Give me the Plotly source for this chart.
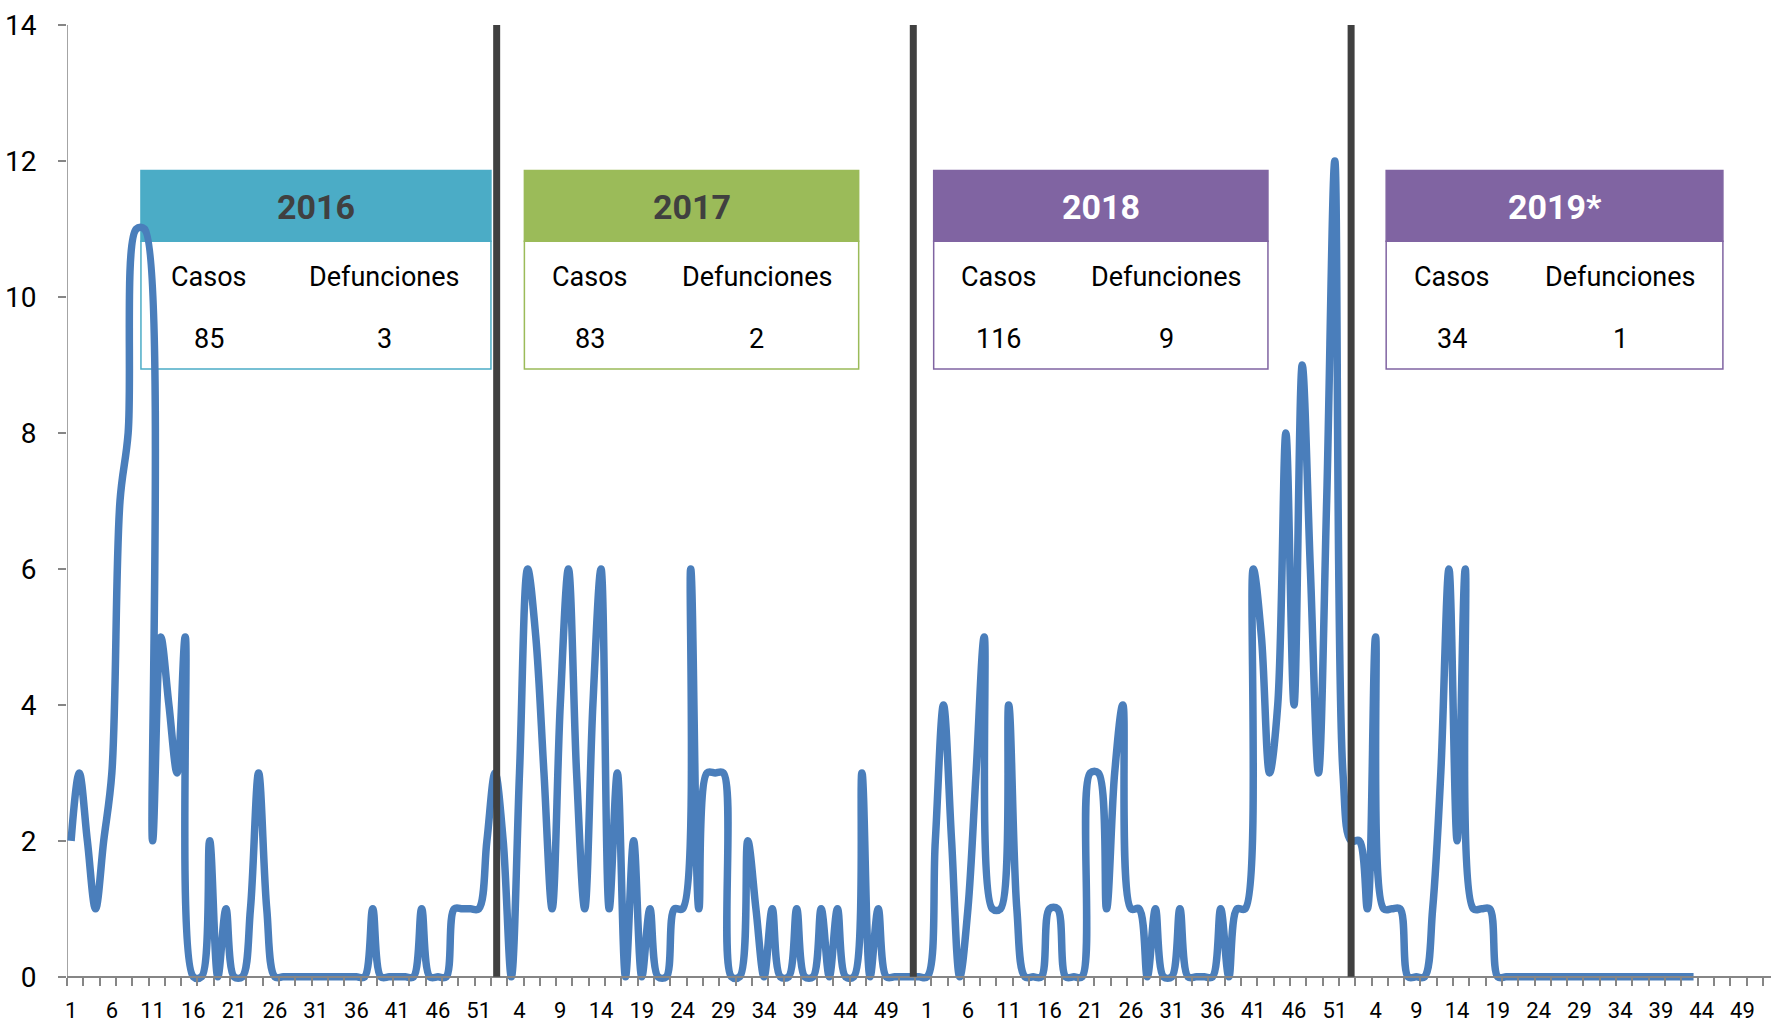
import plotly.graph_objects as go

# Weekly cases (epidemiological weeks)
cases_2016 = [2, 3, 2, 1, 2, 3, 7, 8, 11, 11,
              2, 5, 4, 3, 5, 0, 0, 2, 0, 1,
              0, 0, 1, 3, 1, 0, 0, 0, 0, 0,
              0, 0, 0, 0, 0, 0, 0, 1, 0, 0,
              0, 0, 0, 1, 0, 0, 0, 1, 1, 1,
              1, 2]
cases_2017 = [3, 2, 0, 3, 6, 5, 3, 1, 4, 6,
              3, 1, 4, 6, 1, 3, 0, 2, 0, 1,
              0, 0, 1, 1, 6, 1, 3, 3, 3, 0,
              0, 2, 1, 0, 1, 0, 0, 1, 0, 0,
              1, 0, 1, 0, 0, 3, 0, 1, 0, 0,
              0, 0, 0]
cases_2018 = [0, 2, 4, 2, 0, 1, 3, 5, 1, 1,
              4, 1, 0, 0, 0, 1, 1, 0, 0, 0,
              3, 3, 1, 3, 4, 1, 1, 0, 1, 0,
              0, 1, 0, 0, 0, 0, 1, 0, 1, 1,
              6, 5, 3, 4, 8, 4, 9, 6, 3, 7,
              12, 3]
cases_2019 = [2, 2, 1, 5, 1, 1, 1, 0, 0, 0,
              1, 3, 6, 2, 6, 1, 1, 1, 0, 0,
              0, 0, 0, 0, 0, 0, 0, 0, 0, 0,
              0, 0, 0, 0, 0, 0, 0, 0, 0, 0,
              0, 0, 0]

tick_positions = list(range(0, 206, 5))
tick_labels = ["1", "6", "11", "16", "21", "26", "31", "36", "41", "46", "51",
               "4", "9", "14", "19", "24", "29", "34", "39", "44", "49",
               "1", "6", "11", "16", "21", "26", "31", "36", "41", "46", "51",
               "4", "9", "14", "19", "24", "29", "34", "39", "44", "49"]

years = ["2016", "2017", "2018", "2019*"]
casos = [85, 83, 116, 34]
defunciones = [3, 2, 9, 1]
header_colors = ["#4BACC6", "#9BBB59", "#8064A2", "#8064A2"]
header_text_colors = ["#404040", "#404040", "#FFFFFF", "#FFFFFF"]

separator_x = [52.2, 103.3, 157.0]
box_x = [(8.57, 51.5), (55.6, 96.6), (105.8, 146.8), (161.3, 202.6)]
BOX_TOP, BOX_MID, BOX_BOTTOM = 11.86, 10.82, 8.94

all_cases = cases_2016 + cases_2017 + cases_2018 + cases_2019
x_idx = list(range(len(all_cases)))

FONT = "Roboto, Liberation Sans, sans-serif"
AXIS_GRAY = "#868686"
Y_MIN = -0.12

fig = go.Figure()
fig.add_trace(go.Scatter(
    x=x_idx, y=all_cases, mode="lines",
    line=dict(color="#4A7EBB", width=7.5, shape="spline", smoothing=1.0),
    hoverinfo="skip", showlegend=False,
))

shapes = []
annotations = []
for (x0, x1), yr, c, d, hc, tc in zip(box_x, years, casos, defunciones,
                                         header_colors, header_text_colors):
    shapes.append(dict(type="rect", xref="x", yref="y", x0=x0, x1=x1,
                       y0=BOX_BOTTOM, y1=BOX_MID, fillcolor="white",
                       line=dict(color=hc, width=1.5), layer="below"))
    shapes.append(dict(type="rect", xref="x", yref="y", x0=x0, x1=x1,
                       y0=BOX_MID, y1=BOX_TOP, fillcolor=hc,
                       line=dict(color=hc, width=1.5), layer="below"))
    w = x1 - x0
    annotations.append(dict(x=(x0 + x1) / 2, y=11.33, xref="x", yref="y",
                            text="<b>%s</b>" % yr, showarrow=False,
                            font=dict(family=FONT, size=34, color=tc)))
    cx1 = x0 + 0.195 * w
    cx2 = x0 + 0.695 * w
    body_font = dict(family=FONT, size=27, color="#000000")
    annotations.append(dict(x=cx1, y=10.30, xref="x", yref="y", text="Casos",
                            showarrow=False, font=body_font))
    annotations.append(dict(x=cx2, y=10.30, xref="x", yref="y", text="Defunciones",
                            showarrow=False, font=body_font))
    annotations.append(dict(x=cx1, y=9.385, xref="x", yref="y", text=str(c),
                            showarrow=False, font=body_font))
    annotations.append(dict(x=cx2, y=9.385, xref="x", yref="y", text=str(d),
                            showarrow=False, font=body_font))

for sx in separator_x:
    shapes.append(dict(type="line", xref="x", yref="y", x0=sx, x1=sx, y0=0, y1=14,
                       line=dict(color="#404040", width=7), layer="above"))

# y axis line (drawn from 0 to 14)
shapes.append(dict(type="line", xref="x", yref="y", x0=-0.5, x1=-0.5, y0=0, y1=14,
                   line=dict(color=AXIS_GRAY, width=1.5), layer="below"))

fig.update_layout(
    width=1779, height=1029,
    margin=dict(l=67, r=8, t=25, b=44, autoexpand=False),
    paper_bgcolor="white", plot_bgcolor="white",
    shapes=shapes, annotations=annotations,
    showlegend=False,
    xaxis=dict(
        range=[-0.5, 208.5], showgrid=False, zeroline=False, automargin=False,
        showline=True, linecolor=AXIS_GRAY, linewidth=1.5,
        anchor="free", position=(0 - Y_MIN) / (14 - Y_MIN),
        tickmode="array", tickvals=tick_positions, ticktext=tick_labels,
        ticks="", ticklabelstandoff=14,
        tickfont=dict(family=FONT, size=22, color="#000000"),
        minor=dict(ticks="outside", tickmode="linear", tick0=-0.5, dtick=2,
                   ticklen=8, tickwidth=1.5, tickcolor=AXIS_GRAY, showgrid=False),
    ),
    yaxis=dict(
        range=[Y_MIN, 14], showgrid=False, zeroline=False, showline=False,
        automargin=False,
        tickmode="linear", tick0=0, dtick=2,
        ticks="outside", ticklen=8, tickwidth=1.5, tickcolor=AXIS_GRAY,
        ticklabelstandoff=16,
        tickfont=dict(family=FONT, size=28, color="#000000"),
    ),
)

fig.write_html("out.html",
               config={"displayModeBar": False},
               post_script="document.body.style.margin='0px';"
                           "document.body.style.overflow='hidden';")
